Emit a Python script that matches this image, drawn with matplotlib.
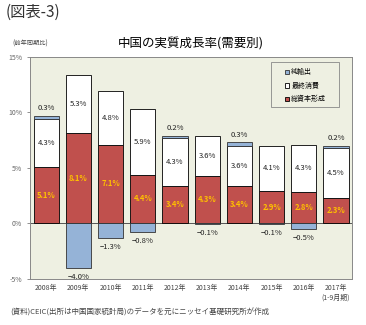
import matplotlib.pyplot as plt
from matplotlib.patches import Rectangle
import numpy as np

plt.rcParams['font.family'] = ['Noto Sans CJK JP', 'DejaVu Sans']

years = ['2008年', '2009年', '2010年', '2011年', '2012年', '2013年',
         '2014年', '2015年', '2016年', '2017年\n(1-9月期)']
capital = [5.1, 8.1, 7.1, 4.4, 3.4, 4.3, 3.4, 2.9, 2.8, 2.3]
consumption = [4.3, 5.3, 4.8, 5.9, 4.3, 3.6, 3.6, 4.1, 4.3, 4.5]
net_export = [0.3, -4.0, -1.3, -0.8, 0.2, -0.1, 0.3, -0.1, -0.5, 0.2]

c_cap = '#C0504D'
c_con = '#FFFFFF'
c_net = '#95B3D7'

fig = plt.figure(figsize=(3.66, 3.25), dpi=100)
ax = fig.add_axes([0.082, 0.142, 0.88, 0.683])
ax.set_facecolor('#EEF0E2')

x = np.arange(len(years))
w = 0.78
cap = np.array(capital)
con = np.array(consumption)
net = np.array(net_export)

ax.bar(x, cap, w, color=c_cap, edgecolor='black', linewidth=0.6, label='総資本形成', zorder=2)
ax.bar(x, con, w, bottom=cap, color=c_con, edgecolor='black', linewidth=0.6, label='最終消費', zorder=2)
net_bottom = np.where(net > 0, cap + con, 0)
ax.bar(x, net, w, bottom=net_bottom, color=c_net, edgecolor='#333333', linewidth=0.6, label='純輸出', zorder=2)

for i in range(len(years)):
    ax.text(x[i], cap[i] / 2, f'{cap[i]:.1f}%', ha='center', va='center',
            fontsize=5.5, color='#FFC000', fontweight='bold', zorder=3)
    ax.text(x[i], cap[i] + con[i] / 2, f'{con[i]:.1f}%', ha='center', va='center',
            fontsize=5.5, color='#222222', zorder=3)
    if net[i] > 0:
        ax.text(x[i], cap[i] + con[i] + net[i] + 0.7, f'{net[i]:.1f}%', ha='center',
                va='center', fontsize=5.5, color='#222222', zorder=3)
    else:
        ax.text(x[i], net[i] - 0.8, f'\u2212{abs(net[i]):.1f}%', ha='center',
                va='center', fontsize=5.5, color='#222222', zorder=3)

ax.set_xlim(-0.5, len(years) - 0.5)
ax.set_ylim(-5, 15)
ax.set_yticks([-5, 0, 5, 10, 15])
ax.set_yticklabels(['-5%', '0%', '5%', '10%', '15%'])
ax.axhline(0, color='#555555', linewidth=0.7, zorder=1)
ax.set_xticks(x)
ax.set_xticklabels(years)
ax.tick_params(axis='x', length=0, labelsize=5, colors='#444444', pad=4)
ax.tick_params(axis='y', length=2, labelsize=5, colors='#666666', width=0.5)
for s in ax.spines.values():
    s.set_color('#888888')
    s.set_linewidth(0.7)

# legend box
ax.add_patch(Rectangle((0.748, 0.775), 0.212, 0.2, transform=ax.transAxes,
                       facecolor='#EEF0E2', edgecolor='#888888', linewidth=0.6, zorder=4))
h, l = ax.get_legend_handles_labels()
leg = ax.legend(h[::-1], l[::-1], loc='upper left', bbox_to_anchor=(0.77, 0.98),
                fontsize=5, frameon=False,
                handlelength=0.6, handleheight=0.6, handletextpad=0.3,
                labelspacing=0.8, borderpad=0.5)
leg.set_zorder(5)

fig.text(0.015, 0.962, '(図表-3)', fontsize=11, ha='left', va='center', color='#333333')
fig.text(0.52, 0.865, '中国の実質成長率(需要別)', fontsize=9, ha='center', va='center')
fig.text(0.035, 0.865, '(前年同期比)', fontsize=4.5, ha='left', va='center', color='#444444')
fig.text(0.027, 0.037, '(資料)CEIC(出所は中国国家統計局)のデータを元にニッセイ基礎研究所が作成',
         fontsize=5.4, ha='left', va='center', color='#444444')

fig.savefig('out.png', dpi=100)
